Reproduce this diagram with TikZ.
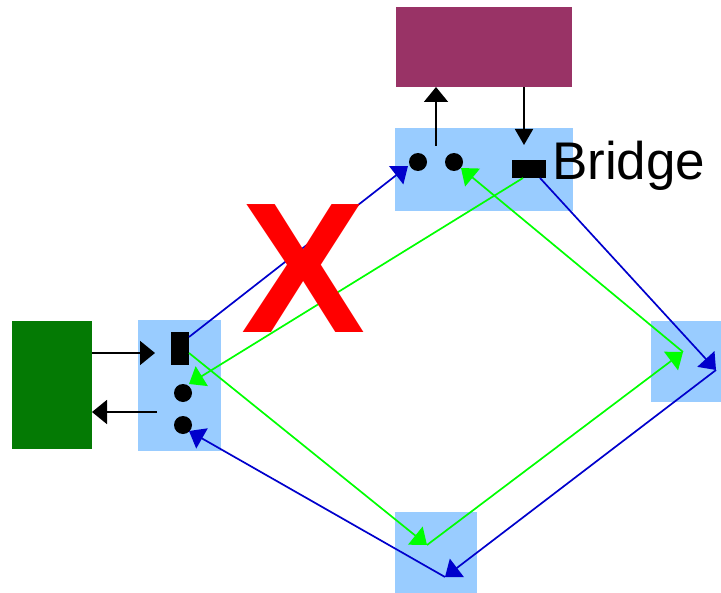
\documentclass[tikz,border=0pt]{standalone}
\usepackage{fontspec}
\setmainfont{Liberation Sans}
\usetikzlibrary{arrows.meta}
\definecolor{lblue}{HTML}{99CCFF}
\definecolor{plum}{HTML}{993366}
\definecolor{dgreen}{HTML}{047A04}
\definecolor{lnblue}{HTML}{0000CC}
\definecolor{lngreen}{HTML}{00FF00}
\tikzset{
  box/.style={fill=#1, draw=none, inner sep=0pt, anchor=north west},
  dot/.style={circle, fill=black, inner sep=0pt, minimum size=18bp},
  port/.style={fill=black, inner sep=0pt},
  ctl/.style={black, line width=1.8bp, -{Triangle[length=16bp,width=18bp]}},
  ctlwide/.style={black, line width=1.8bp, -{Triangle[length=15bp,width=24bp]}},
  bl/.style={lnblue, line width=1.7bp, -{Triangle[length=15bp,width=23bp]}},
  gr/.style={lngreen, line width=1.7bp, -{Triangle[length=15bp,width=23bp]}},
}
\begin{document}
\begin{tikzpicture}[x=1bp,y=-1bp]
\useasboundingbox (0,0) rectangle (721,593);
% boxes
\node[box=plum, minimum width=176bp, minimum height=80bp] (host) at (396,7) {};
\node[box=lblue, minimum width=178bp, minimum height=83bp] (bridge) at (395,128) {};
\node[box=dgreen, minimum width=80bp, minimum height=128bp] (ext) at (12,321) {};
\node[box=lblue, minimum width=83bp, minimum height=131bp] (left) at (138,320) {};
\node[box=lblue, minimum width=70bp, minimum height=81bp] (right) at (651,321) {};
\node[box=lblue, minimum width=82bp, minimum height=81bp] (bottom) at (395,512) {};
% ports
\node[dot] (bd1) at (418,162) {};
\node[dot] (bd2) at (454,162) {};
\node[port, minimum width=34bp, minimum height=18bp] (bport) at (529,169) {};
\node[port, minimum width=18bp, minimum height=33bp] (lport) at (180,348.5) {};
\node[dot] (ld1) at (183,393) {};
\node[dot] (ld2) at (183,425) {};
% text
\node[anchor=base west, inner sep=0pt, font=\fontsize{53bp}{53bp}\selectfont] (btext) at (552,180) {Bridge};
% connection points
\coordinate (upS) at (436,146);
\coordinate (upE) at (436,87);
\coordinate (dnS) at (524,87);
\coordinate (dnE) at (524,145);
\coordinate (inS) at (92,353);
\coordinate (inE) at (155,353);
\coordinate (outS) at (157,412);
\coordinate (outE) at (92,412);
\coordinate (lpB) at (189,337);
\coordinate (lpG) at (189,353);
\coordinate (bd1T) at (408,166);
\coordinate (bd2T) at (461,168);
\coordinate (bpB) at (540,178);
\coordinate (bpG) at (523,178);
\coordinate (rB) at (716,370);
\coordinate (rG) at (683,352);
\coordinate (botB) at (445,577);
\coordinate (botG) at (427,545);
\coordinate (ld1T) at (189,384);
\coordinate (ld2T) at (189,431);
% control arrows
\draw[ctlwide] (upS) -- (upE);
\draw[ctl] (dnS) -- (dnE);
\draw[ctlwide] (inS) -- (inE);
\draw[ctlwide] (outS) -- (outE);
% blue cycle
\draw[bl] (lpB) -- (bd1T);
\draw[bl] (bpB) -- (rB);
\draw[bl] (rB) -- (botB);
\draw[bl] (botB) -- (ld2T);
% green cycle
\draw[gr] (bpG) -- (ld1T);
\draw[gr] (lpG) -- (botG);
\draw[gr] (botG) -- (rG);
\draw[gr] (rG) -- (bd2T);
% red X
\node[anchor=base, inner sep=0pt, text=red, font=\fontsize{186bp}{186bp}\selectfont\bfseries] (cross) at (303.5,332) {X};
% host box drawn over the upward tip
\fill[plum] (host.south west) rectangle (host.north east);
\end{tikzpicture}
\end{document}
